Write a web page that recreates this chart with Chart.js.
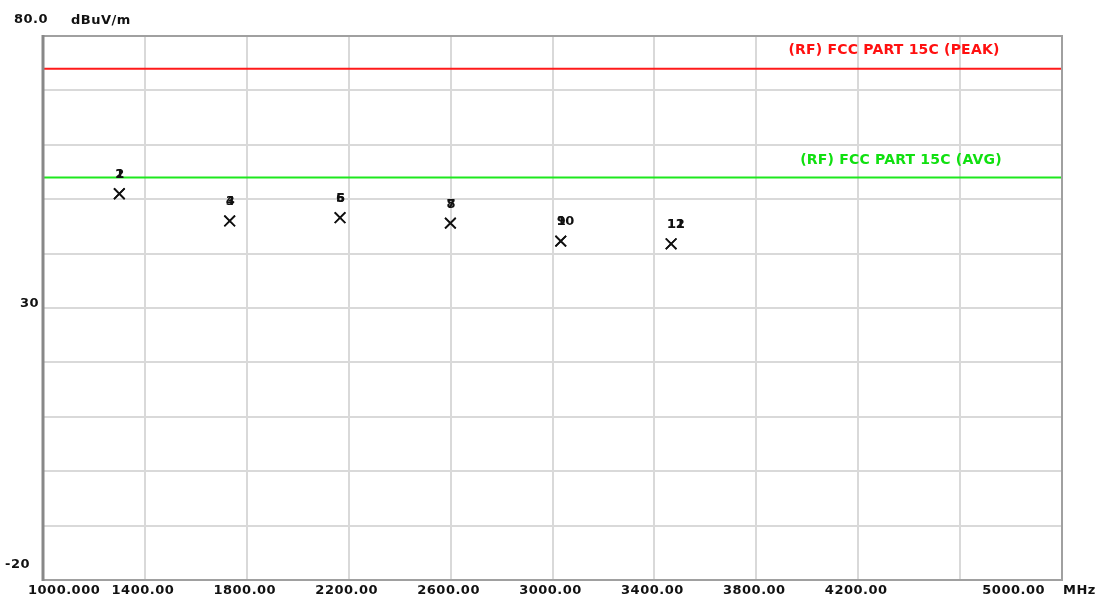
<!DOCTYPE html>
<html>
<head>
<meta charset="utf-8">
<script src="https://cdn.jsdelivr.net/npm/chart.js@4/dist/chart.umd.min.js"></script>
<style>
  html, body { margin: 0; padding: 0; background: #ffffff; }
  #wrap { width: 1097px; height: 598px; }
</style>
</head>
<body>
<div id="wrap"><canvas id="c" width="1097" height="598"></canvas></div>
<script>
// ---- data ----
const freqMHz    = [1299.6, 1299.6, 1732.8, 1732.8, 2166.0, 2166.0, 2599.2, 2599.2, 3032.4, 3032.4, 3465.6, 3465.6];
const levelDbuv  = [51.0, 51.0, 46.0, 46.0, 46.6, 46.6, 45.6, 45.6, 42.3, 42.3, 41.8, 41.8];
const markerIds  = ['1', '2', '3', '4', '5', '6', '7', '8', '9', '10', '11', '12'];
const peakLimit  = 74;
const avgLimit   = 54;
const limitNames = ['(RF) FCC PART 15C (PEAK)', '(RF) FCC PART 15C (AVG)'];
const xTickValues = [1000, 1400, 1800, 2200, 2600, 3000, 3400, 3800, 4200, 4600, 5000];
const xTickLabels = ['1000.000', '1400.00', '1800.00', '2200.00', '2600.00', '3000.00', '3400.00', '3800.00', '4200.00', '', '5000.00'];
const yTickValues = [80, 30, -20];
const yTickLabels = ['80.0', '30', '-20'];
const yUnit = 'dBuV/m';
const xUnit = 'MHz';
const xRange = [1000, 5000];
const yRange = [-20, 80];

const FONT = '"DejaVu Sans", "Liberation Sans", sans-serif';

function setSpacing(ctx, v) { if ('letterSpacing' in ctx) ctx.letterSpacing = v; }

const overlay = {
  id: 'overlay',
  afterDatasetsDraw(chart) {
    const ctx = chart.ctx;
    const ca = chart.chartArea;
    const xs = chart.scales.x, ys = chart.scales.y;
    ctx.save();
    // frame
    ctx.strokeStyle = '#a0a0a0';
    ctx.lineWidth = 2;
    ctx.strokeRect(ca.left, ca.top, ca.right - ca.left, ca.bottom - ca.top);
    ctx.strokeStyle = '#888888';
    ctx.lineWidth = 3;
    ctx.beginPath();
    ctx.moveTo(ca.left, ca.top - 1); ctx.lineTo(ca.left, ca.bottom + 1);
    ctx.stroke();

    // limit labels
    ctx.font = 'bold 14px ' + FONT;
    setSpacing(ctx, '0.2px');
    ctx.textAlign = 'center';
    ctx.textBaseline = 'middle';
    ctx.fillStyle = '#ff1010';
    ctx.fillText(limitNames[0], ca.right - 168, ys.getPixelForValue(peakLimit) - 18);
    ctx.fillStyle = '#10e010';
    ctx.fillText(limitNames[1], ca.right - 161, ys.getPixelForValue(avgLimit) - 17);

    // marker labels
    ctx.font = 'bold 13px ' + FONT;
    setSpacing(ctx, '-0.5px');
    ctx.fillStyle = '#111111';
    ctx.textAlign = 'left';
    const meta = chart.getDatasetMeta(2);
    meta.data.forEach((pt, i) => {
      ctx.fillText(markerIds[i], pt.x - 4, pt.y - 19);
    });

    // x tick labels
    ctx.font = 'bold 13px ' + FONT;
    setSpacing(ctx, '0.5px');
    ctx.fillStyle = '#111111';
    ctx.textBaseline = 'middle';
    const ty = ca.bottom + 11;
    xTickValues.forEach((v, i) => {
      const lbl = xTickLabels[i];
      if (!lbl) return;
      const px = xs.getPixelForValue(v);
      if (i === 0) { ctx.textAlign = 'left'; ctx.fillText(lbl, px - 15, ty); }
      else if (i === xTickValues.length - 1) { ctx.textAlign = 'right'; ctx.fillText(lbl, px - 17, ty); }
      else { ctx.textAlign = 'center'; ctx.fillText(lbl, px - 2, ty); }
    });
    ctx.textAlign = 'left';
    ctx.fillText(xUnit, ca.right + 1, ty);

    // y tick labels
    yTickValues.forEach((v, i) => {
      const py = ys.getPixelForValue(v);
      if (i === 0) { ctx.textAlign = 'center'; ctx.fillText(yTickLabels[i], 31, py - 16); }
      else if (i === yTickValues.length - 1) { ctx.textAlign = 'left'; ctx.fillText(yTickLabels[i], 5, py - 15); }
      else { ctx.textAlign = 'right'; ctx.fillText(yTickLabels[i], 39, py - 4); }
    });
    ctx.textAlign = 'left';
    ctx.fillText(yUnit, 71, ys.getPixelForValue(yRange[1]) - 15);
    ctx.restore();
  }
};

new Chart(document.getElementById('c'), {
  type: 'scatter',
  data: {
    datasets: [
      {
        label: limitNames[0],
        data: [{ x: xRange[0], y: peakLimit }, { x: xRange[1], y: peakLimit }],
        showLine: true, borderColor: '#ff1a1a', borderWidth: 2, pointRadius: 0
      },
      {
        label: limitNames[1],
        data: [{ x: xRange[0], y: avgLimit }, { x: xRange[1], y: avgLimit }],
        showLine: true, borderColor: '#1ee81e', borderWidth: 2, pointRadius: 0
      },
      {
        label: 'markers',
        data: freqMHz.map((f, i) => ({ x: f, y: levelDbuv[i] })),
        showLine: false,
        pointStyle: 'crossRot', pointRadius: 7.5, borderColor: '#111111', borderWidth: 1.7,
        backgroundColor: '#111111'
      }
    ]
  },
  options: {
    responsive: false,
    animation: false,
    events: [],
    layout: { padding: { left: 43, top: 36, right: 35, bottom: 18 } },
    plugins: { legend: { display: false }, tooltip: { enabled: false } },
    scales: {
      x: {
        type: 'linear', min: xRange[0], max: xRange[1],
        afterBuildTicks: (axis) => { axis.ticks = xTickValues.map(v => ({ value: v })); },
        ticks: { display: false },
        grid: { color: '#d9d9d9', lineWidth: 2, drawTicks: false },
        border: { display: false }
      },
      y: {
        type: 'linear', min: yRange[0], max: yRange[1],
        ticks: { display: false, stepSize: 10 },
        grid: { color: '#d9d9d9', lineWidth: 2, drawTicks: false },
        border: { display: false }
      }
    }
  },
  plugins: [overlay]
});
</script>
</body>
</html>
